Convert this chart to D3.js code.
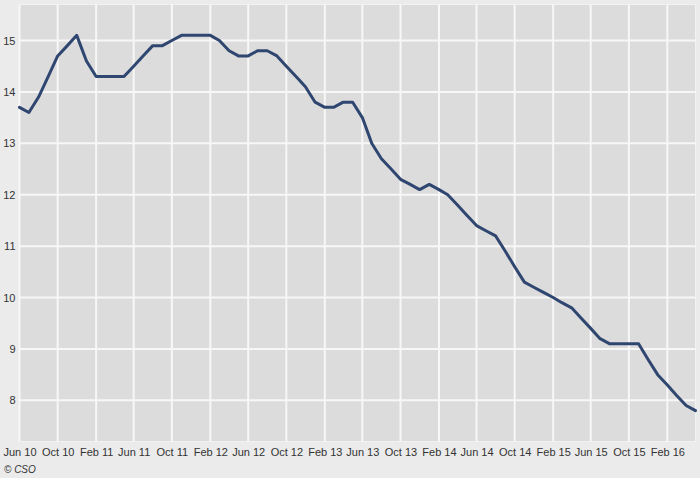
<!DOCTYPE html>
<html>
<head>
<meta charset="utf-8">
<script src="https://cdn.jsdelivr.net/npm/d3@7"></script>
<style>
html,body{margin:0;padding:0;background:#ebebeb;}
svg{display:block;}
</style>
</head>
<body>
<svg id="chart" width="700" height="478"></svg>
<script>
// Monthly data Jun 2010 - May 2016
const startMonth = "2010-06";
const values = [
  13.7, 13.6, 13.9, 14.3, 14.7, 14.9, 15.1,          // Jun10 - Dec10
  14.6, 14.3, 14.3, 14.3, 14.3, 14.5, 14.7, 14.9, 14.9, 15.0, 15.1, 15.1, // 2011
  15.1, 15.1, 15.0, 14.8, 14.7, 14.7, 14.8, 14.8, 14.7, 14.5, 14.3, 14.1, // 2012
  13.8, 13.7, 13.7, 13.8, 13.8, 13.5, 13.0, 12.7, 12.5, 12.3, 12.2, 12.1, // 2013
  12.2, 12.1, 12.0, 11.8, 11.6, 11.4, 11.3, 11.2, 10.9, 10.6, 10.3, 10.2, // 2014
  10.1, 10.0, 9.9, 9.8, 9.6, 9.4, 9.2, 9.1, 9.1, 9.1, 9.1, 8.8,          // 2015
  8.5, 8.3, 8.1, 7.9, 7.8                                                 // Jan16 - May16
];
const xTickLabels = ["Jun 10","Oct 10","Feb 11","Jun 11","Oct 11","Feb 12","Jun 12","Oct 12","Feb 13","Jun 13","Oct 13","Feb 14","Jun 14","Oct 14","Feb 15","Jun 15","Oct 15","Feb 16"];
const yTicks = [8, 9, 10, 11, 12, 13, 14, 15];
const yDomain = [7.2, 15.7];
const sourceText = "© CSO";

const parseM = d3.timeParse("%Y-%m");
const s = parseM(startMonth);
const data = values.map((v, i) => ({date: d3.timeMonth.offset(s, i), value: v}));
const tickDates = xTickLabels.map((_, i) => d3.timeMonth.offset(s, i * 4));

const svg = d3.select("#chart");
const L = 19.5, R = 695.5, T = 4.5, B = 441.5;

const x = d3.scaleTime().domain([data[0].date, data[data.length - 1].date]).range([L, R]);
const y = d3.scaleLinear().domain(yDomain).range([B, T]);

svg.append("rect").attr("x", L).attr("y", T).attr("width", R - L).attr("height", B - T)
  .attr("fill", "#dcdcdc").attr("stroke", "#f2f2f2").attr("stroke-width", 1);

// grid
svg.append("g").selectAll("line").data(yTicks).join("line")
  .attr("x1", L).attr("x2", R).attr("y1", d => y(d)).attr("y2", d => y(d))
  .attr("stroke", "#f7f7f7").attr("stroke-width", 2);
svg.append("g").selectAll("line").data(tickDates).join("line")
  .attr("x1", d => x(d)).attr("x2", d => x(d)).attr("y1", T).attr("y2", B)
  .attr("stroke", "#f7f7f7").attr("stroke-width", 2);

// axes via d3
const xAxis = d3.axisBottom(x).tickValues(tickDates).tickFormat((d, i) => xTickLabels[i]).tickSize(0).tickPadding(0);
const gx = svg.append("g").attr("transform", `translate(0,${B})`).call(xAxis);
gx.select(".domain").remove();
gx.selectAll("text").attr("dy", "1.3em").attr("y", 0)
  .style("font-family", "Liberation Sans, Arial, sans-serif").style("font-size", "11px").attr("fill", "#333");

const yAxis = d3.axisLeft(y).tickValues(yTicks).tickFormat(d3.format("d")).tickSize(0).tickPadding(0);
const gy = svg.append("g").attr("transform", `translate(${L - 4},0)`).call(yAxis);
gy.select(".domain").remove();
gy.selectAll("text").style("font-family", "Liberation Sans, Arial, sans-serif").style("font-size", "11px").attr("fill", "#333");

// line
const line = d3.line().x(d => x(d.date)).y(d => y(d.value));
svg.append("path").datum(data).attr("d", line)
  .attr("fill", "none").attr("stroke", "#2f4670").attr("stroke-width", 3)
  .attr("stroke-linejoin", "round").attr("stroke-linecap", "round");

svg.append("text").attr("x", 4).attr("y", 473).text(sourceText)
  .style("font-family", "Liberation Sans, Arial, sans-serif").style("font-size", "10px")
  .style("font-style", "italic").attr("fill", "#333");
</script>
</body>
</html>
